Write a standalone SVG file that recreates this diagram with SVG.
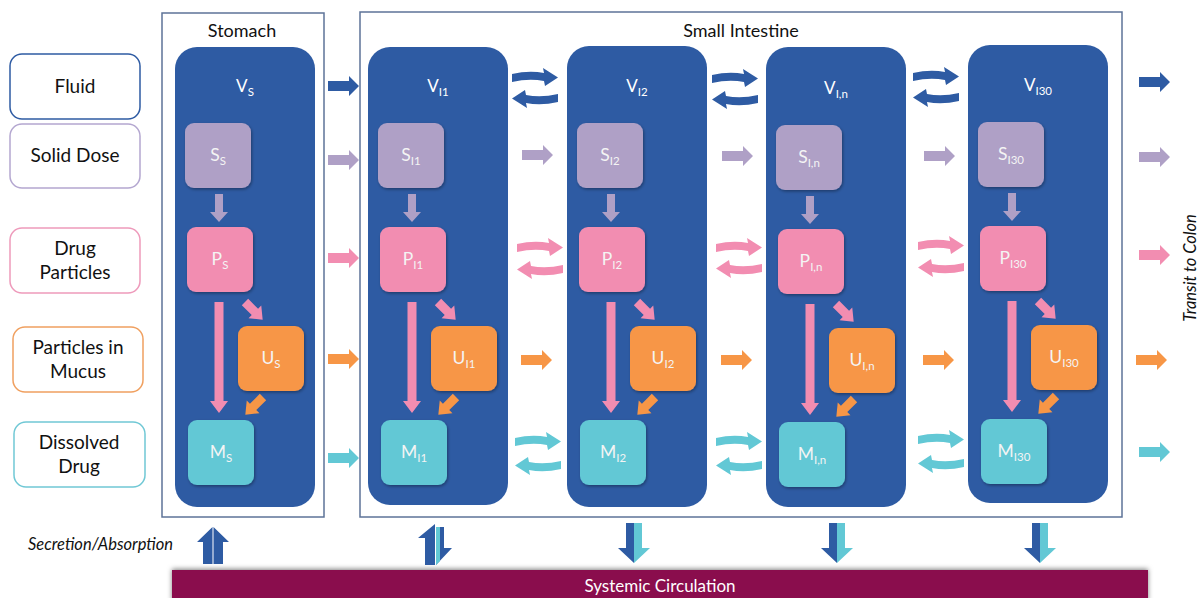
<svg xmlns="http://www.w3.org/2000/svg" xmlns:xlink="http://www.w3.org/1999/xlink" width="1198" height="598" viewBox="0 0 1198 598">
<style>
text{font-family:Lato,"Liberation Sans",sans-serif;}
.lg{fill:#fff;stroke-width:1.5;}
.lt{font-size:19px;fill:#111;text-anchor:middle;}
.hd{font-size:18px;fill:#111;text-anchor:middle;}
.it{font-size:16.5px;font-style:italic;fill:#111;}
.col{fill:#2E5BA3;}
.bx{filter:url(#sh);}
.vl{font-size:17px;fill:#fff;text-anchor:middle;}
.bl{font-size:17.5px;fill:#f4f4f4;text-anchor:middle;}
.sb{font-size:11.5px;}
.fl{fill:#2E5BA3;}
.sd{fill:#AFA0C6;}
.dp{fill:#F28DB1;}
.pm{fill:#F79646;}
.dd{fill:#62C8D5;}
.frame{fill:none;stroke:#5D7398;stroke-width:1.5;}
</style>
<defs>
<filter id="sh" x="-20%" y="-20%" width="140%" height="140%"><feDropShadow dx="1" dy="1.5" stdDeviation="1.5" flood-color="#000" flood-opacity="0.35"/></filter>
<filter id="sh2" x="-5%" y="-50%" width="110%" height="200%"><feDropShadow dx="0" dy="-1" stdDeviation="2.5" flood-color="#000" flood-opacity="0.5"/></filter>
<path id="ar" d="M0,-5 H21 V-10 L31,0 L21,10 V5 H0 Z"/>
<path id="cv" d="M0,5 Q17,1 32,4 L31,-1 L46,8.5 L33,17 L32,12 Q17,9 0,13 Z"/>
<path id="dn" d="M-4,0 H4 V18 H9 L0,28 L-9,18 H-4 Z"/>
<path id="dl" d="M-4.5,0 H4.5 V99 H9 L0,111 L-9,99 H-4.5 Z"/>
<path id="dg" d="M0,-4.5 H14 V-9 L25,0 L14,9 V4.5 H0 Z"/>
</defs>
<rect width="1198" height="598" fill="#fff"/>

<!-- Legend -->
<g id="legend-fluid"><rect class="lg" x="10" y="54" width="130" height="65" rx="12" stroke="#2E5BA3"/><text class="lt" x="75" y="93">Fluid</text></g>
<g id="legend-solid"><rect class="lg" x="10" y="124" width="130" height="64" rx="12" stroke="#B4A7D0"/><text class="lt" x="75" y="162">Solid Dose</text></g>
<g id="legend-particles"><rect class="lg" x="10" y="228" width="130" height="65" rx="12" stroke="#EE9ABB"/><text class="lt" x="75" y="255">Drug</text><text class="lt" x="75" y="279">Particles</text></g>
<g id="legend-mucus"><rect class="lg" x="13" y="327" width="130" height="65" rx="12" stroke="#F0A060"/><text class="lt" x="78" y="354">Particles in</text><text class="lt" x="78" y="378">Mucus</text></g>
<g id="legend-dissolved"><rect class="lg" x="14" y="422" width="131" height="65" rx="12" stroke="#70C8D5"/><text class="lt" x="79" y="449">Dissolved</text><text class="lt" x="79" y="473">Drug</text></g>

<!-- Frames -->
<g id="stomach"><rect class="frame" x="162" y="13" width="162" height="504"/><text class="hd" x="242" y="37">Stomach</text></g>
<g id="small-intestine"><rect class="frame" x="360" y="12" width="762" height="505"/><text class="hd" x="741" y="37">Small Intestine</text></g>

<!-- Stomach column -->
<g id="V_S"><rect class="col" x="175" y="47" width="140" height="460" rx="22"/><text class="vl" x="245" y="92">V<tspan class="sb" dy="4">S</tspan></text></g>
<g id="S_S"><rect class="bx sd" x="185" y="123" width="66" height="65" rx="9"/><text class="bl" x="218" y="161">S<tspan class="sb" dy="4">S</tspan></text></g>
<g id="P_S"><rect class="bx dp" x="187" y="227" width="66" height="65" rx="9"/><text class="bl" x="220" y="265">P<tspan class="sb" dy="4">S</tspan></text></g>
<g id="U_S"><rect class="bx pm" x="238" y="326" width="66" height="65" rx="9"/><text class="bl" x="271" y="364">U<tspan class="sb" dy="4">S</tspan></text></g>
<g id="M_S"><rect class="bx dd" x="188" y="420" width="66" height="65" rx="9"/><text class="bl" x="221" y="458">M<tspan class="sb" dy="4">S</tspan></text></g>

<!-- I1 column -->
<g id="V_I1"><rect class="col" x="368" y="47" width="140" height="458" rx="22"/><text class="vl" x="438" y="92">V<tspan class="sb" dy="4">I1</tspan></text></g>
<g id="S_I1"><rect class="bx sd" x="378" y="123" width="66" height="65" rx="9"/><text class="bl" x="411" y="161">S<tspan class="sb" dy="4">I1</tspan></text></g>
<g id="P_I1"><rect class="bx dp" x="380" y="227" width="66" height="65" rx="9"/><text class="bl" x="413" y="265">P<tspan class="sb" dy="4">I1</tspan></text></g>
<g id="U_I1"><rect class="bx pm" x="431" y="326" width="66" height="65" rx="9"/><text class="bl" x="464" y="364">U<tspan class="sb" dy="4">I1</tspan></text></g>
<g id="M_I1"><rect class="bx dd" x="381" y="420" width="66" height="65" rx="9"/><text class="bl" x="414" y="458">M<tspan class="sb" dy="4">I1</tspan></text></g>

<!-- I2 column -->
<g id="V_I2"><rect class="col" x="567" y="46" width="140" height="461" rx="22"/><text class="vl" x="637" y="92">V<tspan class="sb" dy="4">I2</tspan></text></g>
<g id="S_I2"><rect class="bx sd" x="577" y="123" width="66" height="65" rx="9"/><text class="bl" x="610" y="161">S<tspan class="sb" dy="4">I2</tspan></text></g>
<g id="P_I2"><rect class="bx dp" x="579" y="227" width="66" height="65" rx="9"/><text class="bl" x="612" y="265">P<tspan class="sb" dy="4">I2</tspan></text></g>
<g id="U_I2"><rect class="bx pm" x="630" y="326" width="66" height="65" rx="9"/><text class="bl" x="663" y="364">U<tspan class="sb" dy="4">I2</tspan></text></g>
<g id="M_I2"><rect class="bx dd" x="580" y="420" width="66" height="65" rx="9"/><text class="bl" x="613" y="458">M<tspan class="sb" dy="4">I2</tspan></text></g>

<!-- In column -->
<g id="V_In"><rect class="col" x="766" y="47" width="140" height="460" rx="22"/><text class="vl" x="836" y="94">V<tspan class="sb" dy="4">I,n</tspan></text></g>
<g id="S_In"><rect class="bx sd" x="776" y="125" width="66" height="65" rx="9"/><text class="bl" x="809" y="163">S<tspan class="sb" dy="4">I,n</tspan></text></g>
<g id="P_In"><rect class="bx dp" x="778" y="229" width="66" height="65" rx="9"/><text class="bl" x="811" y="267">P<tspan class="sb" dy="4">I,n</tspan></text></g>
<g id="U_In"><rect class="bx pm" x="829" y="328" width="66" height="65" rx="9"/><text class="bl" x="862" y="366">U<tspan class="sb" dy="4">I,n</tspan></text></g>
<g id="M_In"><rect class="bx dd" x="779" y="422" width="66" height="65" rx="9"/><text class="bl" x="812" y="460">M<tspan class="sb" dy="4">I,n</tspan></text></g>

<!-- I30 column -->
<g id="V_I30"><rect class="col" x="968" y="45" width="140" height="458" rx="22"/><text class="vl" x="1038" y="91">V<tspan class="sb" dy="4">I30</tspan></text></g>
<g id="S_I30"><rect class="bx sd" x="978" y="122" width="66" height="65" rx="9"/><text class="bl" x="1011" y="160">S<tspan class="sb" dy="4">I30</tspan></text></g>
<g id="P_I30"><rect class="bx dp" x="980" y="226" width="66" height="65" rx="9"/><text class="bl" x="1013" y="264">P<tspan class="sb" dy="4">I30</tspan></text></g>
<g id="U_I30"><rect class="bx pm" x="1031" y="325" width="66" height="65" rx="9"/><text class="bl" x="1064" y="363">U<tspan class="sb" dy="4">I30</tspan></text></g>
<g id="M_I30"><rect class="bx dd" x="981" y="419" width="66" height="65" rx="9"/><text class="bl" x="1014" y="457">M<tspan class="sb" dy="4">I30</tspan></text></g>

<!-- Systemic circulation -->
<g id="systemic"><rect x="172" y="570" width="976" height="32" fill="#8A0E4E" filter="url(#sh2)"/><text x="660" y="592" font-size="17" fill="#fff" text-anchor="middle">Systemic Circulation</text></g>

<text class="it" x="28" y="550">Secretion/Absorption</text>
<text class="it" transform="translate(1196,268) rotate(-90)" text-anchor="middle">Transit to Colon</text>

<g id="connectors">
<!-- within columns -->
<use href="#dn" class="sd" transform="translate(219,194)"/>
<use href="#dl" class="dp" transform="translate(219,302)"/>
<use href="#dg" class="dp" transform="translate(245,302) rotate(45)"/>
<use href="#dg" class="pm" transform="translate(263,397) rotate(135)"/>

<use href="#dn" class="sd" transform="translate(412,194)"/>
<use href="#dl" class="dp" transform="translate(412,302)"/>
<use href="#dg" class="dp" transform="translate(438,302) rotate(45)"/>
<use href="#dg" class="pm" transform="translate(456,397) rotate(135)"/>

<use href="#dn" class="sd" transform="translate(611,194)"/>
<use href="#dl" class="dp" transform="translate(611,302)"/>
<use href="#dg" class="dp" transform="translate(637,302) rotate(45)"/>
<use href="#dg" class="pm" transform="translate(655,397) rotate(135)"/>

<use href="#dn" class="sd" transform="translate(810,196)"/>
<use href="#dl" class="dp" transform="translate(810,304)"/>
<use href="#dg" class="dp" transform="translate(836,304) rotate(45)"/>
<use href="#dg" class="pm" transform="translate(854,399) rotate(135)"/>

<use href="#dn" class="sd" transform="translate(1012,193)"/>
<use href="#dl" class="dp" transform="translate(1012,301)"/>
<use href="#dg" class="dp" transform="translate(1038,301) rotate(45)"/>
<use href="#dg" class="pm" transform="translate(1056,396) rotate(135)"/>

<!-- stomach to I1 -->
<use href="#ar" class="fl" transform="translate(328,86)"/>
<use href="#ar" class="sd" transform="translate(328,160)"/>
<use href="#ar" class="dp" transform="translate(328,258)"/>
<use href="#ar" class="pm" transform="translate(328,359)"/>
<use href="#ar" class="dd" transform="translate(328,458)"/>

<!-- I1 <-> I2 -->
<use href="#cv" class="fl" transform="translate(512,69)"/>
<use href="#cv" class="fl" transform="translate(512,91) rotate(180,23,8)"/>
<use href="#ar" class="sd" transform="translate(522,155)"/>
<use href="#cv" class="dp" transform="translate(517,239)"/>
<use href="#cv" class="dp" transform="translate(517,262) rotate(180,23,8)"/>
<use href="#ar" class="pm" transform="translate(521,360)"/>
<use href="#cv" class="dd" transform="translate(515,433)"/>
<use href="#cv" class="dd" transform="translate(515,458) rotate(180,23,8)"/>

<!-- I2 <-> In -->
<use href="#cv" class="fl" transform="translate(712,70)"/>
<use href="#cv" class="fl" transform="translate(712,92) rotate(180,23,8)"/>
<use href="#ar" class="sd" transform="translate(722,156)"/>
<use href="#cv" class="dp" transform="translate(716,239)"/>
<use href="#cv" class="dp" transform="translate(716,261) rotate(180,23,8)"/>
<use href="#ar" class="pm" transform="translate(721,360)"/>
<use href="#cv" class="dd" transform="translate(716,433)"/>
<use href="#cv" class="dd" transform="translate(716,458) rotate(180,23,8)"/>

<!-- In <-> I30 -->
<use href="#cv" class="fl" transform="translate(913,68)"/>
<use href="#cv" class="fl" transform="translate(913,90) rotate(180,23,8)"/>
<use href="#ar" class="sd" transform="translate(924,156)"/>
<use href="#cv" class="dp" transform="translate(918,237)"/>
<use href="#cv" class="dp" transform="translate(918,260) rotate(180,23,8)"/>
<use href="#ar" class="pm" transform="translate(923,360)"/>
<use href="#cv" class="dd" transform="translate(918,431)"/>
<use href="#cv" class="dd" transform="translate(918,456) rotate(180,23,8)"/>

<!-- transit to colon -->
<use href="#ar" class="fl" transform="translate(1139,82)"/>
<use href="#ar" class="sd" transform="translate(1139,157)"/>
<use href="#ar" class="dp" transform="translate(1139,255)"/>
<use href="#ar" class="pm" transform="translate(1136,360)"/>
<use href="#ar" class="dd" transform="translate(1139,452)"/>

<!-- secretion / absorption -->
<polygon class="fl" points="212.5,527 197,542 203,542 203,564 212.5,564"/>
<polygon class="fl" points="213.5,527 229,542 223,542 223,564 213.5,564"/>

<polygon class="fl" points="435,524 418,538 425,538 425,565 435,565"/>
<polygon class="fl" points="436,527 444,527 444,548 452,548 436,565"/>
<polygon class="dd" points="436,527 440,527 440,561 436,565"/>

<polygon class="fl" points="634,523 626,523 626,548 618,548 634,563"/>
<polygon class="dd" points="634,523 642,523 642,548 650,548 634,563"/>
<polygon class="fl" points="837,523 829,523 829,548 821,548 837,563"/>
<polygon class="dd" points="837,523 845,523 845,548 853,548 837,563"/>
<polygon class="fl" points="1040,523 1032,523 1032,548 1024,548 1040,563"/>
<polygon class="dd" points="1040,523 1048,523 1048,548 1056,548 1040,563"/>
</g>
</svg>
